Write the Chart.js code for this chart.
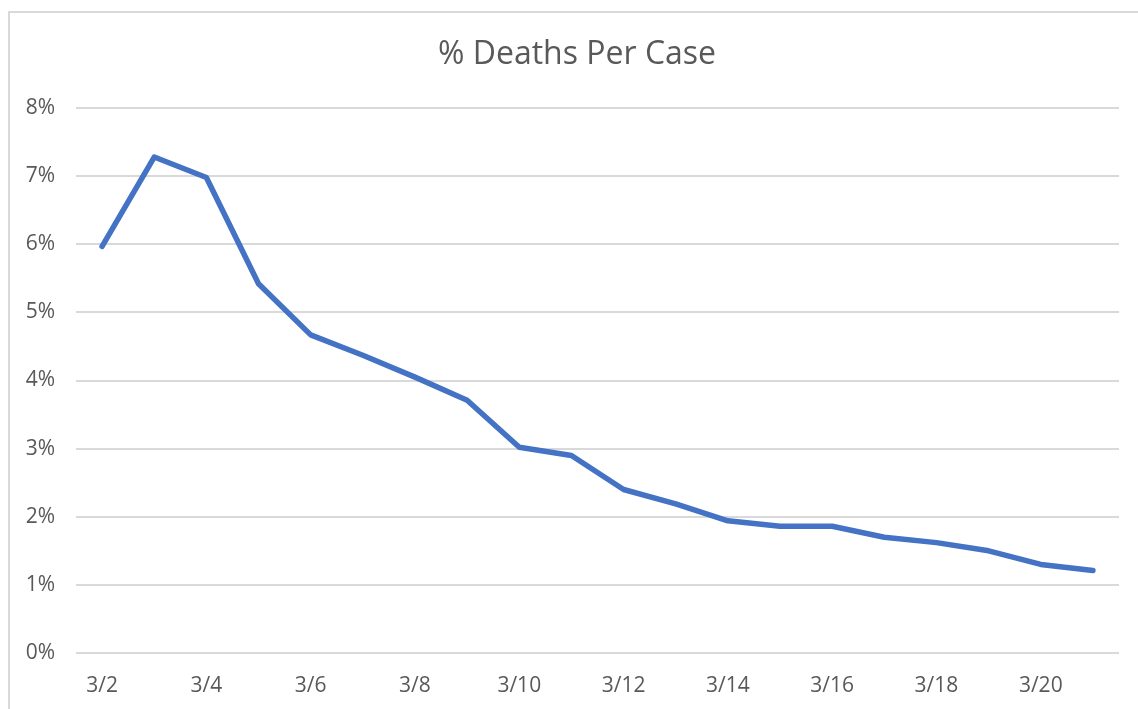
<!DOCTYPE html>
<html>
<head>
<meta charset="utf-8">
<script src="https://cdn.jsdelivr.net/npm/chart.js@4"></script>
<style>
  html, body { margin: 0; padding: 0; background: #ffffff; overflow: hidden; }
  #wrap { position: absolute; left: 0; top: 0; width: 1138px; height: 709px; }
  #frame { position: absolute; left: 8px; top: 11px; width: 1200px; height: 800px; border: 2px solid #d9d9d9; box-sizing: border-box; }
  canvas { position: absolute; left: 0; top: 0; }
</style>
</head>
<body>
<div id="wrap">
  <div id="frame"></div>
  <canvas id="c" width="1138" height="709"></canvas>
</div>
<script>
const titleText = '% Deaths Per Case';
const categories = ['3/2','3/3','3/4','3/5','3/6','3/7','3/8','3/9','3/10','3/11','3/12','3/13','3/14','3/15','3/16','3/17','3/18','3/19','3/20','3/21'];
const deathsPerCasePct = [5.97, 7.28, 6.98, 5.42, 4.67, 4.37, 4.05, 3.71, 3.02, 2.90, 2.40, 2.19, 1.94, 1.86, 1.86, 1.70, 1.62, 1.50, 1.30, 1.21];
const yTickValues = [0, 1, 2, 3, 4, 5, 6, 7, 8];

const textColor = '#595959';
const fontFamily = "'Open Sans', 'Liberation Sans', sans-serif";

// Center the title over the full (uncropped) chart frame, like the original.
const titleCenterPlugin = {
  id: 'titleCenter',
  afterLayout(chart) {
    const t = chart.titleBlock;
    if (t) { t.left = 9; t.right = 1145; t.width = 1136; }
  }
};

new Chart(document.getElementById('c'), {
  type: 'line',
  data: {
    labels: categories,
    datasets: [{
      label: titleText,
      data: deathsPerCasePct,
      borderColor: '#4472C4',
      backgroundColor: '#4472C4',
      borderWidth: 5.5,
      pointRadius: 0,
      pointHoverRadius: 0,
      tension: 0,
      fill: false,
      borderCapStyle: 'round',
      borderJoinStyle: 'round'
    }]
  },
  plugins: [titleCenterPlugin],
  options: {
    responsive: false,
    animation: false,
    devicePixelRatio: 1,
    layout: { padding: { left: 0, right: 19, top: 0, bottom: 0 } },
    plugins: {
      legend: { display: false },
      tooltip: { enabled: false },
      title: {
        display: true,
        text: titleText,
        color: textColor,
        font: { family: fontFamily, size: 32, weight: 'normal', lineHeight: 1.2 },
        padding: { top: 36, bottom: 33.6 }
      }
    },
    scales: {
      x: {
        offset: true,
        grid: { display: false, drawTicks: false },
        border: { display: false },
        ticks: {
          autoSkip: false,
          maxRotation: 0,
          minRotation: 0,
          padding: 20,
          color: textColor,
          font: { family: fontFamily, size: 21 },
          callback: function(value, index) {
            return index % 2 === 0 ? categories[index] : '';
          }
        },
        afterFit: function(scale) { scale.height = 56; }
      },
      y: {
        min: 0,
        max: 8,
        afterBuildTicks: function(scale) {
          scale.ticks = yTickValues.map(v => ({ value: v }));
        },
        grid: { color: '#d9d9d9', lineWidth: 2, drawTicks: false },
        border: { display: false },
        ticks: {
          padding: 21,
          color: textColor,
          font: { family: fontFamily, size: 21 },
          callback: function(value) { return value + '%'; }
        },
        afterFit: function(scale) { scale.width = 76; }
      }
    }
  }
});
</script>
</body>
</html>
